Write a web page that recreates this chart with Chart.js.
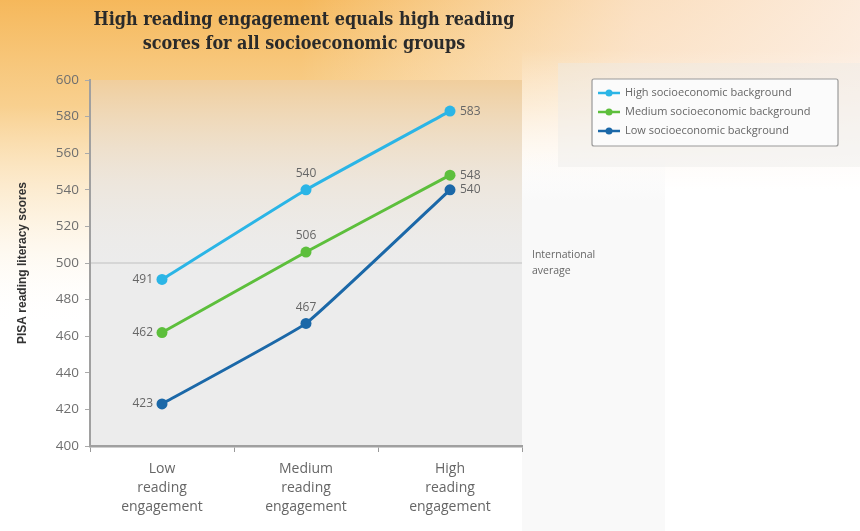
<!DOCTYPE html>
<html><head><meta charset="utf-8">
<script src="https://cdn.jsdelivr.net/npm/chart.js@4.4.1/dist/chart.umd.min.js"></script>
<style>html,body{margin:0;padding:0;background:#fff}canvas{display:block}</style>
</head><body>
<canvas id="c" width="860" height="531"></canvas>
<script>
const categories = [['Low','reading','engagement'],['Medium','reading','engagement'],['High','reading','engagement']];
const seriesNames = ['High socioeconomic background','Medium socioeconomic background','Low socioeconomic background'];
const highSES = [491, 540, 583];
const mediumSES = [462, 506, 548];
const lowSES = [423, 467, 540];
const yTicks = [400, 420, 440, 460, 480, 500, 520, 540, 560, 580, 600];
const intlAverage = 500;
const titleLines = ['High reading engagement equals high reading','scores for all socioeconomic groups'];
const yTitle = 'PISA reading literacy scores';
const avgLabel = ['International','average'];
const colors = ['#2bb5e6', '#5dbf3c', '#1b68a8'];

const bgPlugin = {
  id: 'bg',
  beforeDraw(chart) {
    const ctx = chart.ctx, W = chart.width, H = chart.height, a = chart.chartArea;
    ctx.save();
    ctx.fillStyle = '#fff'; ctx.fillRect(0,0,W,H);
    let g = ctx.createLinearGradient(0,0,0,H);
    g.addColorStop(0,'rgba(245,180,82,0.95)');
    g.addColorStop(0.2,'rgba(246,192,105,0.75)');
    g.addColorStop(0.42,'rgba(250,222,175,0.35)');
    g.addColorStop(0.62,'rgba(255,255,255,0)');
    ctx.fillStyle = g; ctx.fillRect(0,0,W,H);
    // fade to white toward the right (top part only)
    let h = ctx.createLinearGradient(300,0,860,0);
    h.addColorStop(0,'rgba(255,255,255,0)');
    h.addColorStop(0.6,'rgba(253,240,235,0.7)');
    h.addColorStop(1,'rgba(253,244,242,0.85)');
    ctx.fillStyle = h; ctx.fillRect(300,0,W-300,200);
    let v = ctx.createLinearGradient(0,50,0,190);
    v.addColorStop(0,'rgba(255,255,255,0)');
    v.addColorStop(1,'rgba(255,255,255,1)');
    ctx.fillStyle = v; ctx.fillRect(a.right, 50, W - a.right, 140);
    ctx.fillStyle = '#fff'; ctx.fillRect(a.right, 190, W - a.right, H - 190);
    ctx.fillStyle = '#fff'; ctx.fillRect(0, a.bottom, a.right, H - a.bottom);
    let c = ctx.createLinearGradient(0,150,0,200);
    c.addColorStop(0,'rgba(248,248,248,0)');
    c.addColorStop(1,'rgba(248,248,248,0.8)');
    ctx.fillStyle = c; ctx.fillRect(a.right, 150, 665 - a.right, 50);
    ctx.fillStyle = 'rgba(248,248,248,0.8)'; ctx.fillRect(a.right, 200, 665 - a.right, H - 200);
    // legend panel
    ctx.fillStyle = 'rgba(236,234,232,0.4)';
    ctx.fillRect(558, 63, W - 558, 104);
    // plot area
    ctx.fillStyle = '#ececec';
    ctx.fillRect(a.left, a.top, a.right-a.left, a.bottom-a.top);
    let p = ctx.createLinearGradient(0,a.top,0,a.top+200);
    p.addColorStop(0,'rgba(242,196,130,0.75)');
    p.addColorStop(0.5,'rgba(240,215,180,0.3)');
    p.addColorStop(1,'rgba(236,236,236,0)');
    ctx.fillStyle = p;
    ctx.fillRect(a.left, a.top, a.right-a.left, 200);
    // international average
    const y = chart.scales.y.getPixelForValue(intlAverage);
    ctx.strokeStyle = '#d6d6d6'; ctx.lineWidth = 2;
    ctx.beginPath(); ctx.moveTo(a.left, y); ctx.lineTo(a.right, y); ctx.stroke();
    ctx.fillStyle = '#666'; ctx.font = '10.5px "Open Sans", sans-serif';
    ctx.textAlign = 'left'; ctx.textBaseline = 'middle';
    ctx.fillText(avgLabel[0], a.right + 10, y - 8);
    ctx.fillText(avgLabel[1], a.right + 10, y + 8);
    // title
    ctx.fillStyle = '#2a2a2a';
    ctx.textAlign = 'center'; ctx.textBaseline = 'middle';
    ctx.font = 'bold 15px "DejaVu Serif Condensed", "DejaVu Serif", serif';
    const w = ctx.measureText(titleLines[0]).width;
    const size = 15 * 421 / w;
    ctx.font = 'bold ' + size.toFixed(2) + 'px "DejaVu Serif Condensed", "DejaVu Serif", serif';
    ctx.fillText(titleLines[0], 304, 20);
    ctx.fillText(titleLines[1], 304, 44);
    ctx.restore();
  },
  afterDatasetsDraw(chart) {
    const ctx = chart.ctx;
    ctx.save();
    ctx.fillStyle = '#666'; ctx.font = '12px "Open Sans", sans-serif';
    ctx.textBaseline = 'middle';
    chart.data.datasets.forEach((ds, di) => {
      const meta = chart.getDatasetMeta(di);
      meta.data.forEach((pt, i) => {
        const val = ds.data[i];
        if (i === 0) { ctx.textAlign = 'right'; ctx.fillText(val, pt.x - 9, pt.y); }
        else if (i === 1) { ctx.textAlign = 'center'; ctx.fillText(val, pt.x, pt.y - 16); }
        else { ctx.textAlign = 'left'; ctx.fillText(val, pt.x + 10, pt.y); }
      });
    });
    ctx.restore();
  },
  afterDraw(chart) {
    const ctx = chart.ctx;
    ctx.save();
    const x0 = 592, y0 = 79, bw = 246, bh = 67;
    ctx.fillStyle = '#fbfbfb';
    ctx.strokeStyle = '#9a9a9a'; ctx.lineWidth = 1.2;
    ctx.beginPath(); ctx.roundRect(x0, y0, bw, bh, 2); ctx.fill(); ctx.stroke();
    ctx.font = '11px "Open Sans", sans-serif';
    ctx.textAlign = 'left'; ctx.textBaseline = 'middle';
    chart.data.datasets.forEach((ds, i) => {
      const y = y0 + 14 + i * 19;
      ctx.strokeStyle = ds.borderColor; ctx.lineWidth = 2.5;
      ctx.beginPath(); ctx.moveTo(x0 + 6, y); ctx.lineTo(x0 + 28, y); ctx.stroke();
      ctx.fillStyle = ds.borderColor;
      ctx.beginPath(); ctx.arc(x0 + 17, y, 3.5, 0, Math.PI * 2); ctx.fill();
      ctx.fillStyle = '#666';
      ctx.fillText(ds.label, x0 + 33, y);
    });
    ctx.restore();
  }
};

const mk = (label, data, color) => ({
  label, data, borderColor: color, backgroundColor: color,
  borderWidth: 3, pointRadius: 5.5, pointBorderWidth: 0, pointBackgroundColor: color, tension: 0.1
});

new Chart(document.getElementById('c'), {
  type: 'line',
  data: {
    labels: categories,
    datasets: [mk(seriesNames[0], highSES, colors[0]), mk(seriesNames[1], mediumSES, colors[1]), mk(seriesNames[2], lowSES, colors[2])]
  },
  options: {
    responsive: false, animation: false, devicePixelRatio: 1,
    layout: { padding: { top: 80, right: 338, left: 0, bottom: 0 } },
    plugins: { legend: { display: false }, tooltip: { enabled: false }, title: { display: false } },
    scales: {
      x: {
        type: 'category', offset: true,
        grid: { offset: true, drawOnChartArea: false, drawTicks: true, tickLength: 6, color: '#999' },
        border: { color: '#a0a0a0', width: 2.5 },
        ticks: { color: '#666', font: { size: 14, family: '"Open Sans", sans-serif', lineHeight: 1.35 }, padding: 8, maxRotation: 0 },
        afterFit(s) { s.height = 85; }
      },
      y: {
        min: 400, max: 600,
        afterBuildTicks(s) { s.ticks = yTicks.map(v => ({ value: v })); },
        grid: { drawOnChartArea: false, drawTicks: true, tickLength: 5, color: '#aaa' },
        border: { color: '#a0a0a0', width: 2 },
        ticks: { color: '#6f6f6f', font: { size: 13.5, family: '"Open Sans", sans-serif' }, padding: 6 },
        title: { display: true, text: yTitle, color: '#333', font: { size: 12, weight: 'bold', family: '"Liberation Sans", Arial, sans-serif' }, padding: { top: 15, bottom: 0 } },
        afterFit(s) { s.width = 90; }
      }
    }
  },
  plugins: [bgPlugin]
});
</script>
</body></html>
